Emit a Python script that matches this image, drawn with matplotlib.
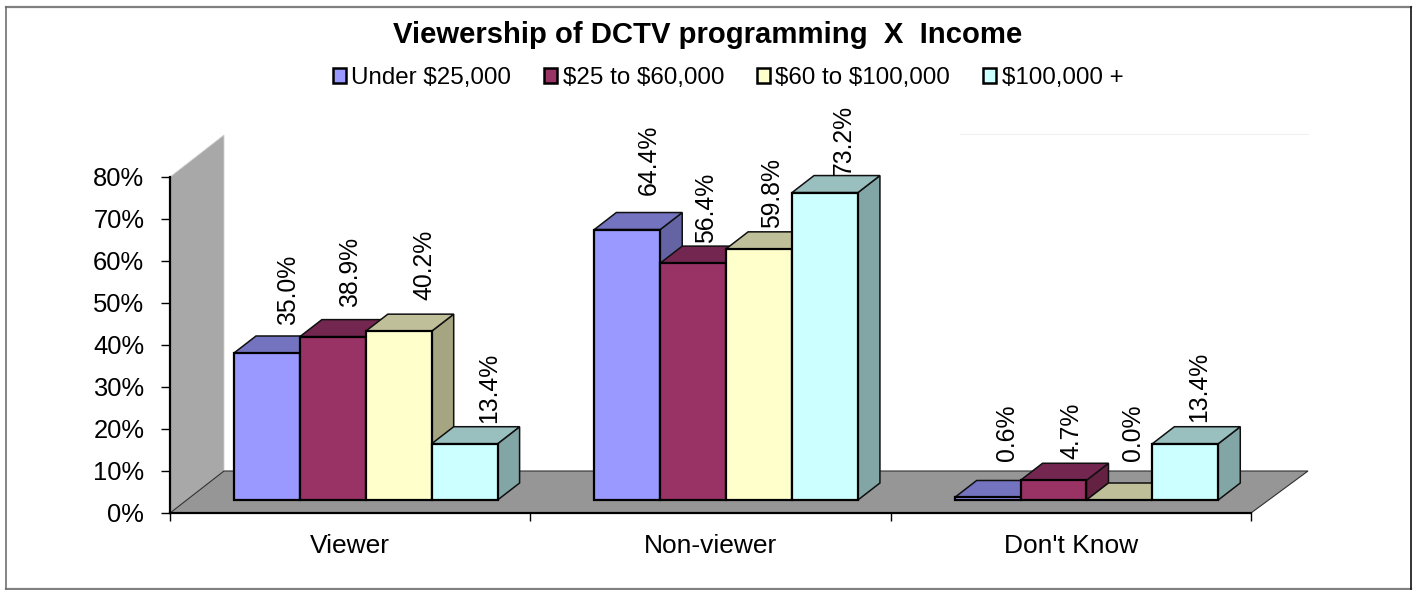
import matplotlib
matplotlib.use("Agg")
import matplotlib.pyplot as plt
from matplotlib.patches import Patch, Polygon
from matplotlib.lines import Line2D

plt.rcParams['font.family'] = ['Liberation Sans', 'DejaVu Sans']
plt.rcParams['text.parse_math'] = False

# ---- data ----
categories = ["Viewer", "Non-viewer", "Don't Know"]
series_names = ["Under $25,000", "$25 to $60,000", "$60 to $100,000", "$100,000 +"]
under_25k = [35.0, 64.4, 0.6]
from_25_to_60k = [38.9, 56.4, 4.7]
from_60_to_100k = [40.2, 59.8, 0.0]
over_100k = [13.4, 73.2, 13.4]
y_ticks = [0, 10, 20, 30, 40, 50, 60, 70, 80]
title = "Viewership of DCTV programming  X  Income"

# ---- style ----
front = ['#9999FF', '#993366', '#FFFFCC', '#CCFFFF']
top = ['#7373BF', '#732650', '#BFBF99', '#99BFBF']
side = ['#6464A5', '#642142', '#A5A582', '#82A5A5']
W, H = 1413, 590

# label offsets in pixels, from the front top of each bar's centre
label_dx = [[21, 17, 26, 24], [21, 13, 13, 19], [19, 18, 14, 14]]
label_dy = [[28, 30, 31, 21], [35, 20, 21, 18], [36, 21, 39, 22]]

fig = plt.figure(figsize=(W / 100, H / 100), dpi=100, facecolor='white')
L, R, T, B = 170, 1251, 177, 513
ax = fig.add_axes([L / W, 1 - B / H, (R - L) / W, (B - T) / H])
ax.set_xlim(0, 3)
ax.set_ylim(0, 80)
ax.patch.set_alpha(0)

px_x = 3 / (R - L)      # data units per pixel
px_y = 80 / (B - T)

# projection of the depth axis
wall_dx, wall_dy = 54 * px_x, 42 * px_y
floor_right_dx = 57 * px_x
bar_dx, bar_dy = 22 * px_x, 17 * px_y
base = 13 * px_y
bar_w = 65.9 * px_x
start = 64 * px_x

wall = Polygon([(0, 0), (0, 80), (wall_dx, 80 + wall_dy), (wall_dx, wall_dy)],
               closed=True, fc='#A8A8A8', ec='#D0D0D0', lw=0.6, zorder=1, clip_on=False)
floor = Polygon([(0, 0), (wall_dx, wall_dy), (3 + floor_right_dx, wall_dy), (3, 0)],
                closed=True, fc='#969696', ec='#303030', lw=0.8, zorder=1.1, clip_on=False)
ax.add_patch(wall)
ax.add_patch(floor)

series = [under_25k, from_25_to_60k, from_60_to_100k, over_100k]
z = 2
for c in range(len(categories)):
    for s, vals in enumerate(series):
        v = vals[c]
        x0 = c + start + s * bar_w
        x1 = x0 + bar_w
        y0, y1 = base, base + v
        ax.add_patch(Polygon([(x1, y0), (x1 + bar_dx, y0 + bar_dy),
                              (x1 + bar_dx, y1 + bar_dy), (x1, y1)],
                             closed=True, fc=side[s], ec='#101010', lw=1.1, zorder=z, clip_on=False))
        ax.add_patch(Polygon([(x0, y1), (x0 + bar_dx, y1 + bar_dy),
                              (x1 + bar_dx, y1 + bar_dy), (x1, y1)],
                             closed=True, fc=top[s], ec='#101010', lw=1.1, zorder=z, clip_on=False))
        ax.bar(x0, v, width=bar_w, bottom=base, align='edge', color=front[s],
               edgecolor='black', linewidth=1.6, zorder=z + 0.1, clip_on=False)
        z += 0.2
        ax.annotate(f"{v:.1f}%", xy=(x0 + bar_w / 2, y1),
                    xytext=(label_dx[c][s], label_dy[c][s]), textcoords='offset pixels',
                    rotation=90, ha='center', va='bottom', fontsize=17.8, color='black',
                    zorder=50, annotation_clip=False)

for sp in ('top', 'right'):
    ax.spines[sp].set_visible(False)
for sp in ('left', 'bottom'):
    ax.spines[sp].set_linewidth(1.6)
    ax.spines[sp].set_zorder(40)

ax.set_yticks(y_ticks)
ax.set_yticklabels([f"{t}%" for t in y_ticks], fontsize=18.4)
ax.tick_params(axis='y', length=6.5, width=1.0, pad=12)
ax.set_xticks(range(len(categories) + 1))
ax.set_xticklabels([])
ax.tick_params(axis='x', which='major', length=5.5, width=1.0)
ax.set_xticks([i + 0.5 for i in range(len(categories))], minor=True)
ax.set_xticklabels(categories, minor=True, fontsize=19)
ax.tick_params(axis='x', which='minor', length=0, pad=15)

fig.text(707.5 / W, 1 - 35 / H, title, ha='center', va='center',
         fontsize=21.1, fontweight='bold', color='black')

handles = [Patch(facecolor=f, edgecolor='black', linewidth=1.8) for f in front]
fig.legend(handles, series_names, loc='center', bbox_to_anchor=(728 / W, 1 - 78 / H),
           ncol=4, frameon=False, fontsize=17.4, handlelength=0.55, handleheight=0.55,
           handletextpad=0.22, columnspacing=1.36, borderpad=0, borderaxespad=0)

# chart frame and the faint line at upper right
frame_l, frame_r, frame_t, frame_b = 5.5 / W, 1410.5 / W, 1 - 6.5 / H, 1 - 589 / H
for xs, ys, col, lw in [([frame_l, frame_r], [frame_t, frame_t], '#808080', 1.6),
                        ([frame_l, frame_r], [frame_b, frame_b], '#808080', 1.6),
                        ([frame_l, frame_l], [frame_b, frame_t], '#707070', 1.2),
                        ([frame_r, frame_r], [frame_b, frame_t], '#101010', 1.2)]:
    fig.add_artist(Line2D(xs, ys, transform=fig.transFigure, color=col, lw=lw))
fig.add_artist(Line2D([960 / W, 1308 / W], [1 - 133.5 / H] * 2, transform=fig.transFigure,
                      color='#F0F0F0', lw=0.8))

fig.savefig('out.png', dpi=100, facecolor='white')
